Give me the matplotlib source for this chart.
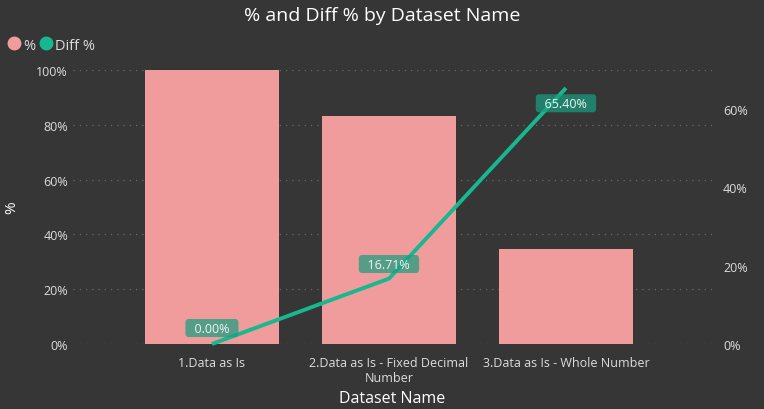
import matplotlib.pyplot as plt
from matplotlib.lines import Line2D
from matplotlib.ticker import FuncFormatter, MultipleLocator

categories = ['1.Data as Is', '2.Data as Is - Fixed Decimal\nNumber', '3.Data as Is - Whole Number']
pct = [100.0, 83.29, 34.60]
diff_pct = [0.00, 16.71, 65.40]

bg = '#363636'
bar_color = '#F09C9C'
line_color = '#17B890'
text_color = '#DDDDDD'

plt.rcParams['font.family'] = ['Open Sans', 'DejaVu Sans']

fig = plt.figure(figsize=(7.64, 4.10), dpi=100, facecolor=bg)
ax = fig.add_axes([73 / 764, 1 - 345 / 410, (712 - 73) / 764, 274 / 410])
ax.set_facecolor(bg)

x = list(range(len(categories)))
ax.bar(x, pct, width=0.757, color=bar_color, zorder=2)
ax.set_xlim(-0.785, 2.825)
ax.set_ylim(0, 100)
ax.yaxis.set_major_locator(MultipleLocator(20))
ax.yaxis.set_major_formatter(FuncFormatter(lambda v, p: f'{v:.0f}%'))
ax.grid(axis='y', color='#6a6a6a', linestyle=(0, (1, 4)), linewidth=0.9, zorder=0)
ax.set_xticks(x)
ax.set_xticklabels(categories, fontsize=9.3, color=text_color)
ax.tick_params(axis='both', length=0, colors=text_color, labelsize=9)
ax.tick_params(axis='x', pad=9)
for s in ax.spines.values():
    s.set_visible(False)
ax.set_ylabel('%', fontsize=11, color='white', labelpad=12)
ax.set_xlabel('Dataset Name', fontsize=11.5, color='white', labelpad=4)

ax2 = ax.twinx()
ax2.set_ylim(0, 70)
ax2.yaxis.set_major_locator(MultipleLocator(20))
ax2.yaxis.set_major_formatter(FuncFormatter(lambda v, p: f'{v:.0f}%'))
ax2.tick_params(axis='y', length=0, colors=text_color, labelsize=9, pad=8)
for s in ax2.spines.values():
    s.set_visible(False)
ax2.plot(x, diff_pct, color=line_color, linewidth=2.8, zorder=3, clip_on=False,
         solid_capstyle='butt')

offsets = [11.5, 10.5, -11]
for xi, v, off in zip(x, diff_pct, offsets):
    ax2.annotate(f'  {v:.2f}%  ', (xi, v), xytext=(0, off), textcoords='offset points',
                 ha='center', va='center', fontsize=9, color='#F2F2F2', zorder=4,
                 bbox=dict(boxstyle='round,pad=0.2,rounding_size=0.25',
                           facecolor='#1A9E80', edgecolor='none', alpha=0.72))

fig.text(0.5, 0.962, '% and Diff % by Dataset Name', ha='center', va='center',
         fontsize=14, color='white')

handles = [Line2D([], [], marker='o', linestyle='', color=bar_color, markersize=9),
           Line2D([], [], marker='o', linestyle='', color=line_color, markersize=9)]
fig.legend(handles, ['%', 'Diff %'], loc='center left', bbox_to_anchor=(-0.006, 1 - 46 / 410),
           frameon=False, ncol=2, handletextpad=0.0, columnspacing=0.15,
           fontsize=10.5, labelcolor=text_color, borderaxespad=0.3, handlelength=1.2)

fig.savefig('out.png', dpi=100, facecolor=bg)
